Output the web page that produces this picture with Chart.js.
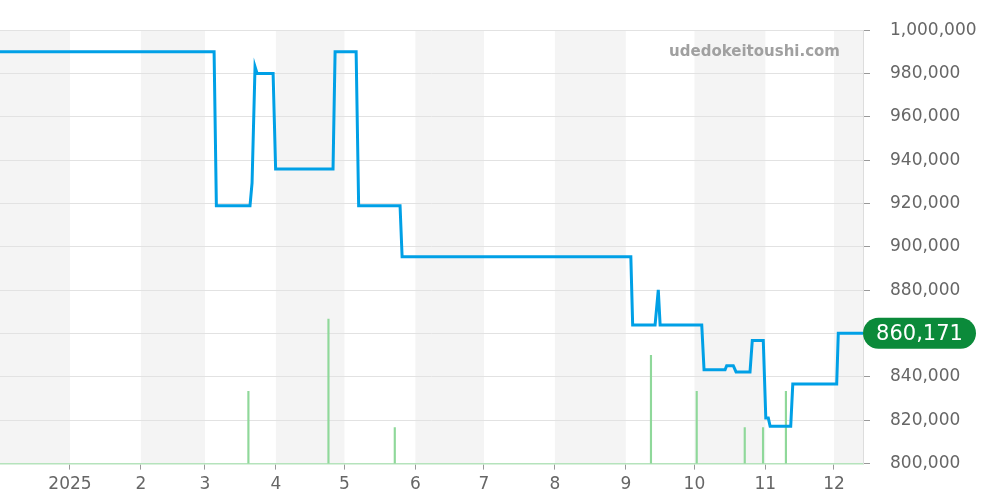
<!DOCTYPE html>
<html lang="ja">
<head>
  <meta charset="UTF-8" />
  <title>Price history</title>
  <script src="https://cdn.jsdelivr.net/npm/chart.js"></script>
  <style>
    html, body { margin: 0; padding: 0; background: #fff; }
    .chart-box { width: 1000px; height: 500px; }
  </style>
</head>
<body>
  <div class="chart-box">
    <canvas id="priceChart"></canvas>
  </div>

  <script>
    // x values are days counted from 2025-01-01
    const monthStarts = [-31, 0, 31, 59, 90, 120, 151, 181, 212, 243, 273, 304, 334];
    const monthLabels = ['', '2025', '2', '3', '4', '5', '6', '7', '8', '9', '10', '11', '12'];
    const xMin = -30.6;
    const xMax = 346.7;

    const priceDays = [-31, 63, 64, 78.7, 79.6, 80.9, 81.8, 88.8, 89.9, 115, 115.9, 125.1, 126.2,
      144.3, 145.2, 245.2, 246, 255.8, 257.2, 258, 276.2, 277.2, 286.4, 287.1, 290, 291.2,
      297.3, 298.3, 303.1, 304.2, 305.3, 306.1, 315.1, 316, 335.2, 335.9, 346.7];
    const prices = [990000, 990000, 919000, 919000, 929500, 983100, 980000, 980000, 936000, 936000,
      990000, 990000, 919000, 919000, 895400, 895400, 864000, 864000, 880200, 864000, 864000,
      843300, 843300, 845200, 845200, 842300, 842300, 856800, 856800, 821000, 821000, 817200,
      817200, 836700, 836700, 860171, 860171];

    const volumeDays = [78, 113, 142, 254, 274, 295, 303, 313];
    const volumes = [2, 4, 1, 3, 2, 1, 1, 2];

    const priceTicks = [800000, 820000, 840000, 860000, 880000, 900000, 920000, 940000, 960000, 980000, 1000000];

    Chart.defaults.font.family = "'DejaVu Sans', sans-serif";
    Chart.defaults.color = '#666';

    const monthBands = {
      id: 'monthBands',
      beforeDraw(chart) {
        const { ctx, chartArea, scales } = chart;
        ctx.save();
        ctx.fillStyle = '#f4f4f4';
        for (let i = 0; i < monthStarts.length; i += 2) {
          const start = monthStarts[i];
          const end = i + 1 < monthStarts.length ? monthStarts[i + 1] : xMax;
          const x1 = Math.max(scales.x.getPixelForValue(start), chartArea.left);
          const x2 = Math.min(scales.x.getPixelForValue(end), chartArea.right);
          ctx.fillRect(x1, chartArea.top, x2 - x1, chartArea.bottom - chartArea.top);
        }
        ctx.restore();
      },
      beforeDatasetsDraw(chart) {
        const { ctx, chartArea } = chart;
        ctx.save();
        ctx.font = 'bold 15px "DejaVu Sans"';
        ctx.fillStyle = '#a0a0a0';
        ctx.textAlign = 'right';
        ctx.textBaseline = 'middle';
        ctx.fillText('udedokeitoushi.com', chartArea.right - 23, chartArea.top + 22);
        ctx.restore();
      }
    };

    const lastPrice = {
      id: 'lastPrice',
      afterDraw(chart) {
        const { ctx, chartArea, scales } = chart;
        const value = prices[prices.length - 1];
        const y = scales.y.getPixelForValue(value);
        const x = chartArea.right;
        const w = 113, h = 31;
        ctx.save();
        ctx.fillStyle = '#0b8a3a';
        ctx.beginPath();
        ctx.roundRect(x, y - h / 2, w, h, h / 2);
        ctx.fill();
        ctx.fillStyle = '#fff';
        ctx.font = '21px "DejaVu Sans"';
        ctx.textAlign = 'center';
        ctx.textBaseline = 'middle';
        ctx.fillText(value.toLocaleString('en-US'), x + w / 2, y + 1);
        ctx.restore();
      }
    };

    new Chart(document.getElementById('priceChart'), {
      data: {
        datasets: [
          {
            type: 'line',
            label: 'price',
            data: priceDays.map((d, i) => ({ x: d, y: prices[i] })),
            borderColor: '#00a0e6',
            borderWidth: 3,
            pointRadius: 0,
            tension: 0,
            yAxisID: 'y',
            order: 0
          },
          {
            type: 'bar',
            label: 'volume',
            data: volumeDays.map((d, i) => ({ x: d, y: volumes[i] })),
            backgroundColor: '#8fd89a',
            barThickness: 1.5,
            yAxisID: 'y2',
            order: 1
          }
        ]
      },
      options: {
        responsive: true,
        maintainAspectRatio: false,
        animation: false,
        layout: { padding: { top: 30, bottom: 0, left: 0, right: 0 } },
        plugins: {
          legend: { display: false },
          tooltip: { enabled: false }
        },
        scales: {
          x: {
            type: 'linear',
            min: xMin,
            max: xMax,
            offset: false,
            afterBuildTicks(scale) {
              scale.ticks = monthStarts.slice(1).map(v => ({ value: v }));
            },
            ticks: {
              autoSkip: false,
              maxRotation: 0,
              padding: 5,
              font: { size: 17 },
              color: '#666',
              callback(value) {
                return monthLabels[monthStarts.indexOf(value)];
              }
            },
            grid: {
              offset: false,
              drawOnChartArea: false,
              drawTicks: true,
              tickLength: 6,
              tickColor: '#999'
            },
            border: { color: '#b5e3bc', width: 1.5, dash: [2, 1] }
          },
          y: {
            position: 'right',
            min: 800000,
            max: 1000000,
            afterBuildTicks(scale) {
              scale.ticks = priceTicks.map(v => ({ value: v }));
            },
            afterFit(scale) {
              scale.width = 137;
            },
            ticks: {
              padding: 20,
              font: { size: 17 },
              color: '#666',
              callback: v => v.toLocaleString('en-US')
            },
            grid: {
              color: '#e2e2e2',
              tickLength: 7,
              tickColor: '#999'
            },
            border: { color: '#ddd' }
          },
          y2: {
            display: false,
            min: 0,
            max: 12
          }
        }
      },
      plugins: [monthBands, lastPrice]
    });
  </script>
</body>
</html>
